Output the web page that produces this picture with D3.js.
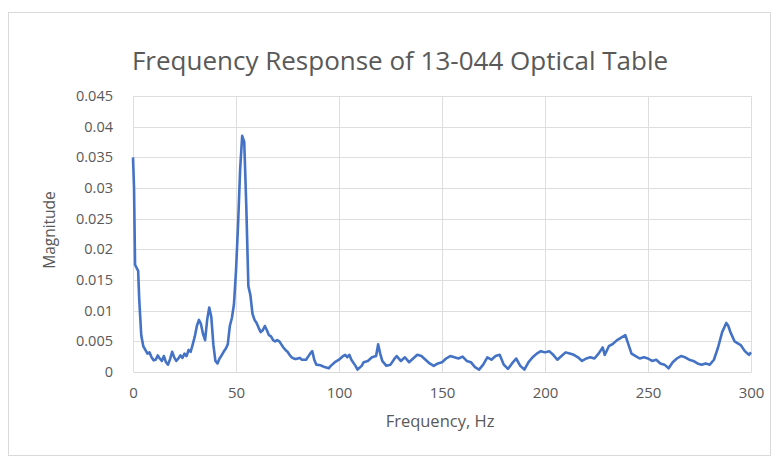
<!DOCTYPE html>
<html>
<head>
<meta charset="utf-8">
<script src="https://cdn.jsdelivr.net/npm/d3@7"></script>
<style>
  html, body { margin: 0; padding: 0; background: #fff; }
  svg { display: block; }
  text { font-family: "Open Sans", "Liberation Sans", sans-serif; fill: #595959; }
</style>
</head>
<body>
<svg id="chart" width="778" height="463"></svg>
<script>
// frequency (Hz) and magnitude
const freq = [0, 0.5, 1, 2, 2.5, 3, 4, 5, 6, 7, 8, 9, 10, 11, 12, 13, 14, 15, 16, 17, 18, 19, 20,
  21, 22, 23, 24, 25, 26, 27, 28, 29, 30, 31, 32, 33, 34, 35, 36, 37, 38, 39, 40,
  41, 42, 43, 44, 45, 46, 47, 48, 49, 50, 51, 52, 53, 54, 55, 56, 57, 58, 59, 60,
  61, 62, 63, 64, 65, 66, 67, 68, 69, 70, 71, 72, 73, 74, 75, 76, 77, 78, 79, 80,
  81, 82, 84, 86, 87, 88, 89, 91, 93, 95, 96, 98, 100, 102, 103, 104, 105, 106, 108, 109,
  111, 112, 114, 116, 118, 119, 120, 121, 123, 125, 127, 128, 130, 132, 134, 136, 138, 140,
  142, 144, 146, 148, 150, 152, 154, 156, 158, 160, 162, 164, 166, 168, 170, 172, 174, 176,
  178, 180, 182, 184, 186, 188, 190, 192, 194, 196, 198, 200, 202, 204, 206, 208, 210, 212,
  214, 216, 218, 220, 222, 224, 226, 228, 229, 231, 233, 235, 237, 239, 240, 242, 244, 246,
  248, 250, 252, 254, 256, 258, 260, 262, 264, 266, 268, 270, 272, 274, 276, 278, 280, 282,
  284, 286, 288, 289, 290, 292, 294, 295, 297, 299, 300];
const magnitude = [0.035, 0.030, 0.0175, 0.0168, 0.0165, 0.012, 0.006, 0.0042, 0.0036, 0.0030, 0.0032, 0.0024, 0.0019, 0.0020, 0.0027, 0.0022, 0.0018, 0.0026, 0.0016, 0.0012, 0.0021, 0.0033, 0.0024,
  0.0018, 0.0022, 0.0027, 0.0023, 0.0030, 0.0026, 0.0036, 0.0033, 0.0045, 0.0058, 0.0075, 0.0085, 0.0078, 0.0062, 0.0052, 0.0085, 0.0105, 0.0090, 0.0045, 0.0018,
  0.0014, 0.0022, 0.0027, 0.0033, 0.0038, 0.0045, 0.0075, 0.0088, 0.0110, 0.0165, 0.0240, 0.0330, 0.0385, 0.0375, 0.0270, 0.0140, 0.0125, 0.0095, 0.0085, 0.0080,
  0.0072, 0.0065, 0.0068, 0.0075, 0.0068, 0.0060, 0.0058, 0.0052, 0.0050, 0.0052, 0.0050, 0.0045, 0.0040, 0.0036, 0.0033, 0.0028, 0.0024, 0.0022, 0.0021, 0.0022,
  0.0023, 0.0020, 0.0020, 0.0030, 0.0034, 0.0020, 0.0012, 0.0011, 0.0008, 0.0006, 0.0010, 0.0016, 0.0020, 0.0026, 0.0028, 0.0024, 0.0028, 0.0020, 0.0010, 0.0004,
  0.0010, 0.0016, 0.0018, 0.0024, 0.0026, 0.0045, 0.0030, 0.0018, 0.0010, 0.0012, 0.0022, 0.0026, 0.0018, 0.0024, 0.0016, 0.0022, 0.0028, 0.0026,
  0.0020, 0.0014, 0.0010, 0.0014, 0.0016, 0.0022, 0.0026, 0.0024, 0.0022, 0.0025, 0.0018, 0.0016, 0.0008, 0.0004, 0.0012, 0.0024, 0.0020, 0.0026,
  0.0028, 0.0012, 0.0005, 0.0014, 0.0022, 0.0010, 0.0004, 0.0016, 0.0024, 0.0030, 0.0034, 0.0032, 0.0034, 0.0028, 0.0020, 0.0026, 0.0032, 0.0030,
  0.0028, 0.0024, 0.0018, 0.0022, 0.0024, 0.0022, 0.0030, 0.0040, 0.0028, 0.0042, 0.0046, 0.0052, 0.0056, 0.0060, 0.0050, 0.0030, 0.0026, 0.0022,
  0.0024, 0.0022, 0.0018, 0.0020, 0.0014, 0.0012, 0.0006, 0.0016, 0.0022, 0.0026, 0.0024, 0.0020, 0.0018, 0.0014, 0.0012, 0.0014, 0.0012, 0.0020,
  0.0040, 0.0065, 0.0080, 0.0075, 0.0065, 0.0050, 0.0046, 0.0044, 0.0034, 0.0028, 0.0032];

const xTicks = [0, 50, 100, 150, 200, 250, 300];
const yTicks = [0, 0.005, 0.01, 0.015, 0.02, 0.025, 0.03, 0.035, 0.04, 0.045];

const chartTitle = "Frequency Response of 13-044 Optical Table";
const xTitle = "Frequency, Hz";
const yTitle = "Magnitude";

const data = freq.map((f, i) => ({ f: f, m: magnitude[i] }));

const svg = d3.select("#chart");
const margin = { top: 96, right: 27, bottom: 91, left: 133 };
const width = 778 - margin.left - margin.right;
const height = 463 - margin.top - margin.bottom;

// chart area border
svg.append("rect")
  .attr("x", 8.5).attr("y", 12.5)
  .attr("width", 762).attr("height", 443)
  .attr("fill", "#fff")
  .attr("stroke", "#d9d9d9");

const g = svg.append("g").attr("transform", `translate(${margin.left},${margin.top})`);

const x = d3.scaleLinear().domain([0, 300]).range([0, width]);
const y = d3.scaleLinear().domain([0, 0.045]).range([height, 0]);

// gridlines
g.append("g")
  .selectAll("line.h")
  .data(yTicks.filter(d => d > 0))
  .join("line")
  .attr("x1", 0).attr("x2", width)
  .attr("y1", d => Math.round(y(d)) + 0.5).attr("y2", d => Math.round(y(d)) + 0.5)
  .attr("stroke", "#dedede");

g.append("g")
  .selectAll("line.v")
  .data(xTicks)
  .join("line")
  .attr("x1", d => Math.round(x(d)) + 0.5).attr("x2", d => Math.round(x(d)) + 0.5)
  .attr("y1", 0).attr("y2", height)
  .attr("stroke", "#dedede");

// x axis
const xAxis = g.append("g")
  .attr("transform", `translate(0,${height})`)
  .call(d3.axisBottom(x).tickValues(xTicks).tickSize(0).tickPadding(15).tickFormat(d3.format("d")));
xAxis.select(".domain").attr("stroke", "#d9d9d9");
xAxis.selectAll("text").attr("font-size", 15).attr("fill", "#595959").attr("font-family", "Open Sans, sans-serif");

// y axis
const yAxis = g.append("g")
  .call(d3.axisLeft(y).tickValues(yTicks).tickSize(0).tickPadding(20)
    .tickFormat(d => d === 0 ? "0" : String(+d.toFixed(3))));
yAxis.select(".domain").remove();
yAxis.selectAll("text").attr("font-size", 14.5).attr("fill", "#595959").attr("font-family", "Open Sans, sans-serif");

// line
const line = d3.line()
  .x(d => x(d.f))
  .y(d => y(d.m));

g.append("path")
  .datum(data)
  .attr("fill", "none")
  .attr("stroke", "#4472c4")
  .attr("stroke-width", 2.6)
  .attr("stroke-linejoin", "round")
  .attr("d", line);

// titles
svg.append("text")
  .attr("x", 400).attr("y", 70)
  .attr("text-anchor", "middle")
  .attr("font-size", 26)
  .text(chartTitle);

svg.append("text")
  .attr("x", 440).attr("y", 427)
  .attr("text-anchor", "middle")
  .attr("font-size", 16.5)
  .text(xTitle);

svg.append("text")
  .attr("transform", "translate(55,230) rotate(-90)")
  .attr("text-anchor", "middle")
  .attr("font-size", 15.5)
  .text(yTitle);
</script>
</body>
</html>
